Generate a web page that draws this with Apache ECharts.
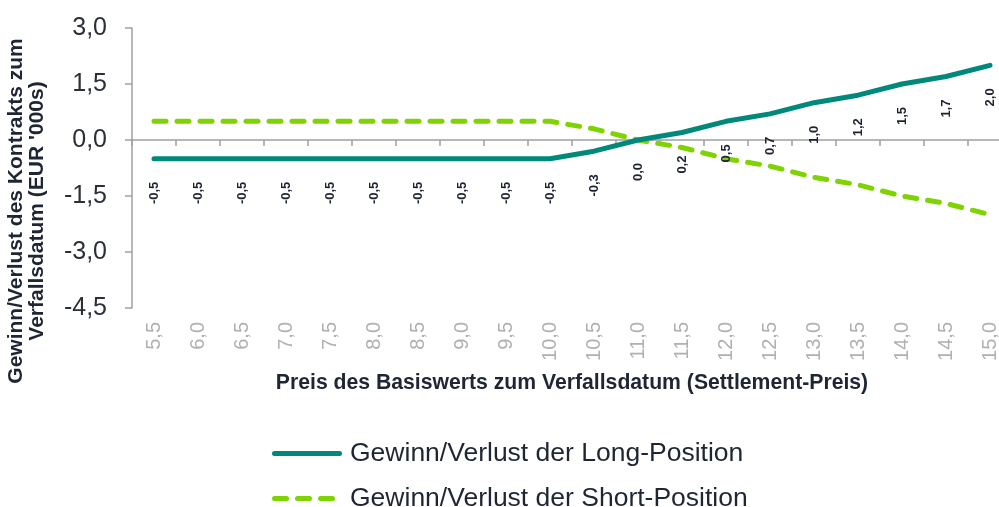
<!DOCTYPE html>
<html>
<head>
<meta charset="utf-8">
<script src="https://cdn.jsdelivr.net/npm/echarts@6/dist/echarts.min.js"></script>
<style>
  html, body { margin: 0; padding: 0; background: #ffffff; }
  #chart { width: 999px; height: 507px; }
</style>
</head>
<body>
<div id="chart"></div>
<script>
// Settlement prices of the underlying (x-axis categories)
const prices = ['5.5', '6.0', '6.5', '7.0', '7.5', '8.0', '8.5', '9.0', '9.5', '10.0',
                '10.5', '11.0', '11.5', '12.0', '12.5', '13.0', '13.5', '14.0', '14.5', '15.0'];

// Profit/loss of the long position (EUR '000s)
const longPnl = [-0.5, -0.5, -0.5, -0.5, -0.5, -0.5, -0.5, -0.5, -0.5, -0.5,
                 -0.3, 0.0, 0.2, 0.5, 0.7, 1.0, 1.2, 1.5, 1.7, 2.0];

// Profit/loss of the short position (EUR '000s)
const shortPnl = [0.5, 0.5, 0.5, 0.5, 0.5, 0.5, 0.5, 0.5, 0.5, 0.5,
                  0.3, 0.0, -0.2, -0.5, -0.7, -1.0, -1.2, -1.5, -1.7, -2.0];

// Value axis ticks
const yTicks = [-4.5, -3.0, -1.5, 0.0, 1.5, 3.0];

const seriesNames = ['Gewinn/Verlust der Long-Position', 'Gewinn/Verlust der Short-Position'];
const xTitle = 'Preis des Basiswerts zum Verfallsdatum (Settlement-Preis)';
const yTitle = 'Gewinn/Verlust des Kontrakts zum\nVerfallsdatum (EUR \'000s)';

const FONT = '"Liberation Sans", Arial, sans-serif';
const LONG_COLOR = '#00897b';
const SHORT_COLOR = '#7ed300';
const comma = (v) => Number(v).toFixed(1).replace('.', ',');

// Legend keys: a solid bar and three rounded dashes (the last sub-path only widens the box)
const solidIcon = 'path://M2.5,0 L67.5,0 A2.5,2.5 0 0 1 67.5,5 L2.5,5 A2.5,2.5 0 0 1 2.5,0 Z';
const dashIcon = 'path://M2.5,0 L14.5,0 A2.5,2.5 0 0 1 14.5,5 L2.5,5 A2.5,2.5 0 0 1 2.5,0 Z' +
                 ' M25.5,0 L37.5,0 A2.5,2.5 0 0 1 37.5,5 L25.5,5 A2.5,2.5 0 0 1 25.5,0 Z' +
                 ' M48.5,0 L60.5,0 A2.5,2.5 0 0 1 60.5,5 L48.5,5 A2.5,2.5 0 0 1 48.5,0 Z' +
                 ' M70,0 L70,5 L70,0';

// One legend row per series, stacked under the axis title
const legendRow = (name, icon, top) => ({
  left: 272,
  top: top,
  padding: 0,
  itemWidth: 70,
  itemHeight: 5,
  itemStyle: { borderWidth: 0 },
  textStyle: { fontSize: 26.5, lineHeight: 14, color: '#1f2633', fontFamily: FONT, padding: [0, 0, 0, 3] },
  data: [{ name: name, icon: icon }]
});

const chart = echarts.init(document.getElementById('chart'), null, { renderer: 'canvas' });

chart.setOption({
  animation: false,
  textStyle: { fontFamily: FONT },
  grid: { left: 132, top: 28, height: 280, width: 880, containLabel: false, outerBoundsMode: 'none' },
  legend: [
    legendRow(seriesNames[0], solidIcon, 440),
    legendRow(seriesNames[1], dashIcon, 485)
  ],
  xAxis: [
    {
      // zero line with tick marks between categories
      type: 'category',
      position: 'top',
      data: prices,
      boundaryGap: true,
      axisLine: { onZero: true, lineStyle: { color: '#a0a0a0', width: 1.5 } },
      axisTick: { show: true, inside: true, length: 6, lineStyle: { color: '#a0a0a0', width: 1.5 } },
      axisLabel: { show: false },
      splitLine: { show: false }
    },
    {
      // category labels along the bottom of the plot
      type: 'category',
      position: 'bottom',
      data: prices,
      boundaryGap: true,
      axisLine: { show: false, onZero: false },
      axisTick: { show: false },
      axisLabel: {
        rotate: 90,
        margin: 14,
        fontSize: 20,
        color: '#b0b0b0',
        fontFamily: FONT,
        formatter: (v) => comma(v)
      },
      name: xTitle,
      nameLocation: 'middle',
      nameGap: 65,
      nameTextStyle: { fontSize: 21.2, fontWeight: 'bold', color: '#1f2633', fontFamily: FONT },
      splitLine: { show: false }
    }
  ],
  yAxis: {
    type: 'value',
    min: yTicks[0],
    max: yTicks[yTicks.length - 1],
    interval: 1.5,
    axisLine: { show: true, lineStyle: { color: '#a0a0a0', width: 1.5 } },
    axisTick: { show: true, length: 7, lineStyle: { color: '#a0a0a0', width: 1.5 } },
    axisLabel: { fontSize: 25, color: '#2b2f38', margin: 25, fontFamily: FONT, formatter: (v) => comma(v) },
    splitLine: { show: false },
    name: yTitle,
    nameLocation: 'middle',
    nameGap: 84,
    nameRotate: 90,
    nameTextStyle: {
      fontSize: 21, fontWeight: 'bold', color: '#1f2633', fontFamily: FONT,
      lineHeight: 21, align: 'center', padding: [0, 86, 0, 0]
    }
  },
  series: [
    {
      name: seriesNames[0],
      type: 'line',
      xAxisIndex: 0,
      data: longPnl,
      symbol: 'circle',
      symbolSize: 0,
      showSymbol: true,
      lineStyle: { color: LONG_COLOR, width: 5, cap: 'round', join: 'round' },
      itemStyle: { color: LONG_COLOR },
      label: {
        show: true,
        position: 'bottom',
        distance: 23,
        rotate: 90,
        align: 'right',
        verticalAlign: 'middle',
        fontSize: 13,
        fontWeight: 'bold',
        color: '#1c2230',
        fontFamily: FONT,
        formatter: (p) => comma(p.value)
      },
      z: 3
    },
    {
      name: seriesNames[1],
      type: 'line',
      xAxisIndex: 0,
      data: shortPnl,
      symbol: 'none',
      lineStyle: { color: SHORT_COLOR, width: 5, type: [12, 11], cap: 'round', join: 'round' },
      itemStyle: { color: SHORT_COLOR },
      z: 2
    }
  ]
});
</script>
</body>
</html>
